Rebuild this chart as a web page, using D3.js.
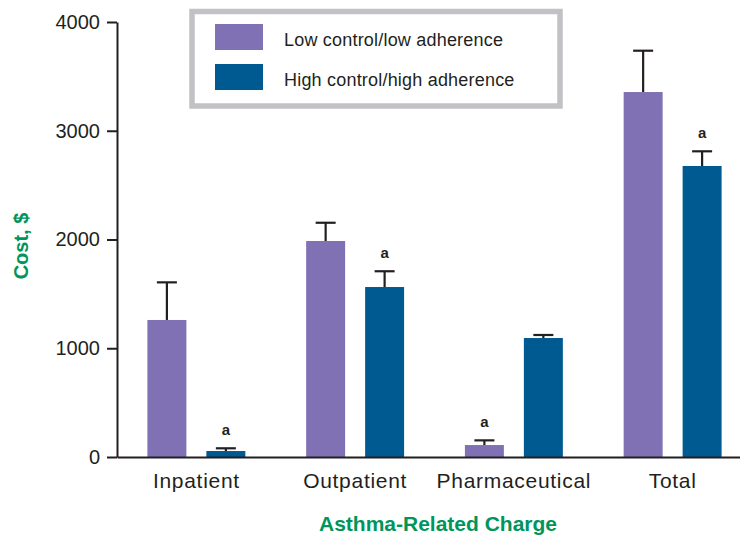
<!DOCTYPE html>
<html>
<head>
<meta charset="utf-8">
<script src="https://cdn.jsdelivr.net/npm/d3@7"></script>
<style>
    body { margin: 0; background: #fff; }
    svg { display: block; font-family: "Liberation Sans", Arial, sans-serif; }
</style>
</head>
<body>
<svg id="chart" width="740" height="537"></svg>
<script>
// Chart data
const categories = ['Inpatient', 'Outpatient', 'Pharmaceutical', 'Total'];
const seriesNames = ['Low control/low adherence', 'High control/high adherence'];
const lowValues = [1260, 1986, 110, 3356];
const lowErrors = [1606, 2154, 153, 3736];   // top of error bar
const highValues = [55, 1563, 1094, 2676];
const highErrors = [80, 1708, 1122, 2811];
const lowMarks = ['', '', 'a', ''];
const highMarks = ['a', 'a', '', 'a'];
const yTicks = [0, 1000, 2000, 3000, 4000];

const colors = ['#8070b4', '#005a92'];
const ink = '#231f20';
const green = '#00955a';

const svg = d3.select('#chart');

const x0 = d3.scaleBand().domain(categories).range([117, 752]).paddingInner(0.383).paddingOuter(0.1915);
const x1 = d3.scaleBand().domain([0, 1]).range([0, x0.bandwidth()]).paddingInner(0.339);
const y = d3.scaleLinear().domain([0, 4000]).range([457, 22]);

// Build rows per series
const rows = [];
categories.forEach((cat, i) => {
    rows.push({ cat, s: 0, value: lowValues[i], err: lowErrors[i], mark: lowMarks[i] });
    rows.push({ cat, s: 1, value: highValues[i], err: highErrors[i], mark: highMarks[i] });
});

// Error bars (drawn under the bars)
const eb = svg.append('g').attr('stroke', ink).attr('stroke-width', 2.2);
rows.forEach(d => {
    const cx = x0(d.cat) + x1(d.s) + x1.bandwidth() / 2;
    eb.append('line').attr('x1', cx).attr('x2', cx).attr('y1', y(d.value)).attr('y2', y(d.err));
    eb.append('line').attr('x1', cx - 10).attr('x2', cx + 10).attr('y1', y(d.err)).attr('y2', y(d.err));
});

// Bars
svg.append('g').selectAll('rect')
    .data(rows)
    .enter()
    .append('rect')
    .attr('x', d => x0(d.cat) + x1(d.s))
    .attr('y', d => y(d.value))
    .attr('width', x1.bandwidth())
    .attr('height', d => y(0) - y(d.value))
    .attr('fill', d => colors[d.s]);

// Significance marks
svg.append('g').selectAll('text')
    .data(rows.filter(d => d.mark))
    .enter()
    .append('text')
    .attr('x', d => x0(d.cat) + x1(d.s) + x1.bandwidth() / 2)
    .attr('y', d => y(d.err) - 13)
    .attr('text-anchor', 'middle')
    .attr('font-size', 15)
    .attr('font-weight', 'bold')
    .attr('fill', ink)
    .text(d => d.mark);

// Y axis
const yAxis = svg.append('g')
    .attr('transform', 'translate(117,0)')
    .call(d3.axisLeft(y).tickValues(yTicks).tickFormat(d3.format('d')).tickSize(10).tickSizeOuter(0).tickPadding(7));
yAxis.selectAll('path, line').attr('stroke', ink).attr('stroke-width', 2);
yAxis.selectAll('text').attr('font-size', 20).attr('fill', ink).attr('font-family', '"Liberation Sans", Arial, sans-serif');

// X axis
const xAxis = svg.append('g')
    .attr('transform', 'translate(0,457)')
    .call(d3.axisBottom(x0).tickSize(0).tickPadding(16.5));
xAxis.select('path').attr('stroke', ink).attr('stroke-width', 2);
xAxis.selectAll('text').attr('font-size', 21).attr('letter-spacing', 0.7).attr('fill', ink).attr('font-family', '"Liberation Sans", Arial, sans-serif');

// Axis titles
svg.append('text')
    .attr('x', 438).attr('y', 531)
    .attr('text-anchor', 'middle')
    .attr('font-size', 21).attr('font-weight', 'bold').attr('fill', green)
    .text('Asthma-Related Charge');

svg.append('text')
    .attr('transform', 'translate(28,246) rotate(-90)')
    .attr('text-anchor', 'middle')
    .attr('font-size', 20).attr('font-weight', 'bold').attr('fill', green)
    .text('Cost, $');

// Legend
const legend = svg.append('g');
legend.append('rect')
    .attr('x', 192).attr('y', 11.5).attr('width', 368).attr('height', 94.5)
    .attr('fill', '#fff').attr('stroke', '#c2c2c6').attr('stroke-width', 5.5);
seriesNames.forEach((name, i) => {
    legend.append('rect')
        .attr('x', 215).attr('y', 24 + i * 40).attr('width', 48).attr('height', 26)
        .attr('fill', colors[i]);
    legend.append('text')
        .attr('x', 284).attr('y', 46 + i * 40)
        .attr('font-size', 18).attr('letter-spacing', 0.2).attr('fill', ink)
        .text(name);
});
</script>
</body>
</html>
